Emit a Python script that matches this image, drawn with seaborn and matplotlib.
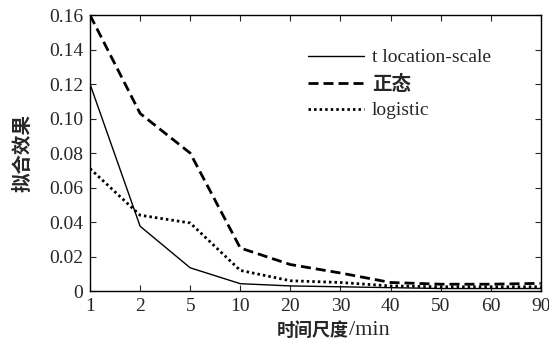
import numpy as np
import pandas as pd
import matplotlib
matplotlib.use("Agg")
import matplotlib.pyplot as plt
import seaborn as sns

# Data
scales = ["1", "2", "5", "10", "20", "30", "40", "50", "60", "90"]
t_ls = [0.120, 0.0376, 0.0135, 0.0043, 0.003, 0.0025, 0.002, 0.0015, 0.0015, 0.0015]
normal = [0.160, 0.103, 0.080, 0.025, 0.0154, 0.0105, 0.005, 0.004, 0.004, 0.0045]
logistic = [0.071, 0.044, 0.0395, 0.012, 0.006, 0.005, 0.003, 0.0025, 0.0025, 0.0025]
yticks = [0, 0.02, 0.04, 0.06, 0.08, 0.10, 0.12, 0.14, 0.16]
ytick_labels = ["0", "0.02", "0.04", "0.06", "0.08", "0.10", "0.12", "0.14", "0.16"]

sns.set_style("ticks")
plt.rcParams['font.family'] = ['Liberation Serif', 'Noto Sans CJK SC']
plt.rcParams['xtick.direction'] = 'in'
plt.rcParams['ytick.direction'] = 'in'

cjk = ['Noto Sans CJK SC']
df = pd.DataFrame({"pos": np.arange(len(scales)), "t": t_ls, "n": normal, "l": logistic})

fig = plt.figure(figsize=(5.49, 3.52), dpi=100)
ax = fig.add_axes([0.164, 0.173, 0.821, 0.784])

sns.lineplot(data=df, x="pos", y="t", ax=ax, color="black", lw=1.0,
             label="t location-scale")
sns.lineplot(data=df, x="pos", y="n", ax=ax, color="black", lw=2.0,
             linestyle=(0, (3.6, 1.8)), label="正态")
sns.lineplot(data=df, x="pos", y="l", ax=ax, color="black", lw=2.0,
             linestyle=(0, (0.9, 1.1)), label="logistic")

ax.set_xlim(0, len(scales) - 1)
ax.set_ylim(0, 0.16)
ax.set_xticks(df["pos"])
ax.set_xticklabels(scales, fontsize=14)
ax.set_yticks(yticks)
ax.set_yticklabels(ytick_labels, fontsize=14)
ax.tick_params(top=True, right=True, length=4, width=0.8, pad=5)
for s in ax.spines.values():
    s.set_linewidth(1.0)
    s.set_color("black")

# x label: bold CJK part plus regular serif unit
ax.set_xlabel("时间尺度", fontsize=13, fontweight="bold", family=cjk, x=0.495,
              labelpad=4)
ax.annotate("/min", xy=(1, 0.5), xycoords=ax.xaxis.label, ha="left", va="center",
            fontsize=16, family="Liberation Serif")
ax.set_ylabel("拟合效果", fontsize=14, fontweight="bold", family=cjk, labelpad=12)

leg = ax.legend(loc="upper left", bbox_to_anchor=(0.483, 0.878), frameon=False,
                fontsize=14, handlelength=2.9, handletextpad=0.4, labelspacing=0.42,
                borderpad=0, borderaxespad=0)
for t in leg.get_texts():
    if t.get_text() == "正态":
        t.set_fontweight("bold")
        t.set_family(cjk)

fig.savefig("out.png", dpi=100)
